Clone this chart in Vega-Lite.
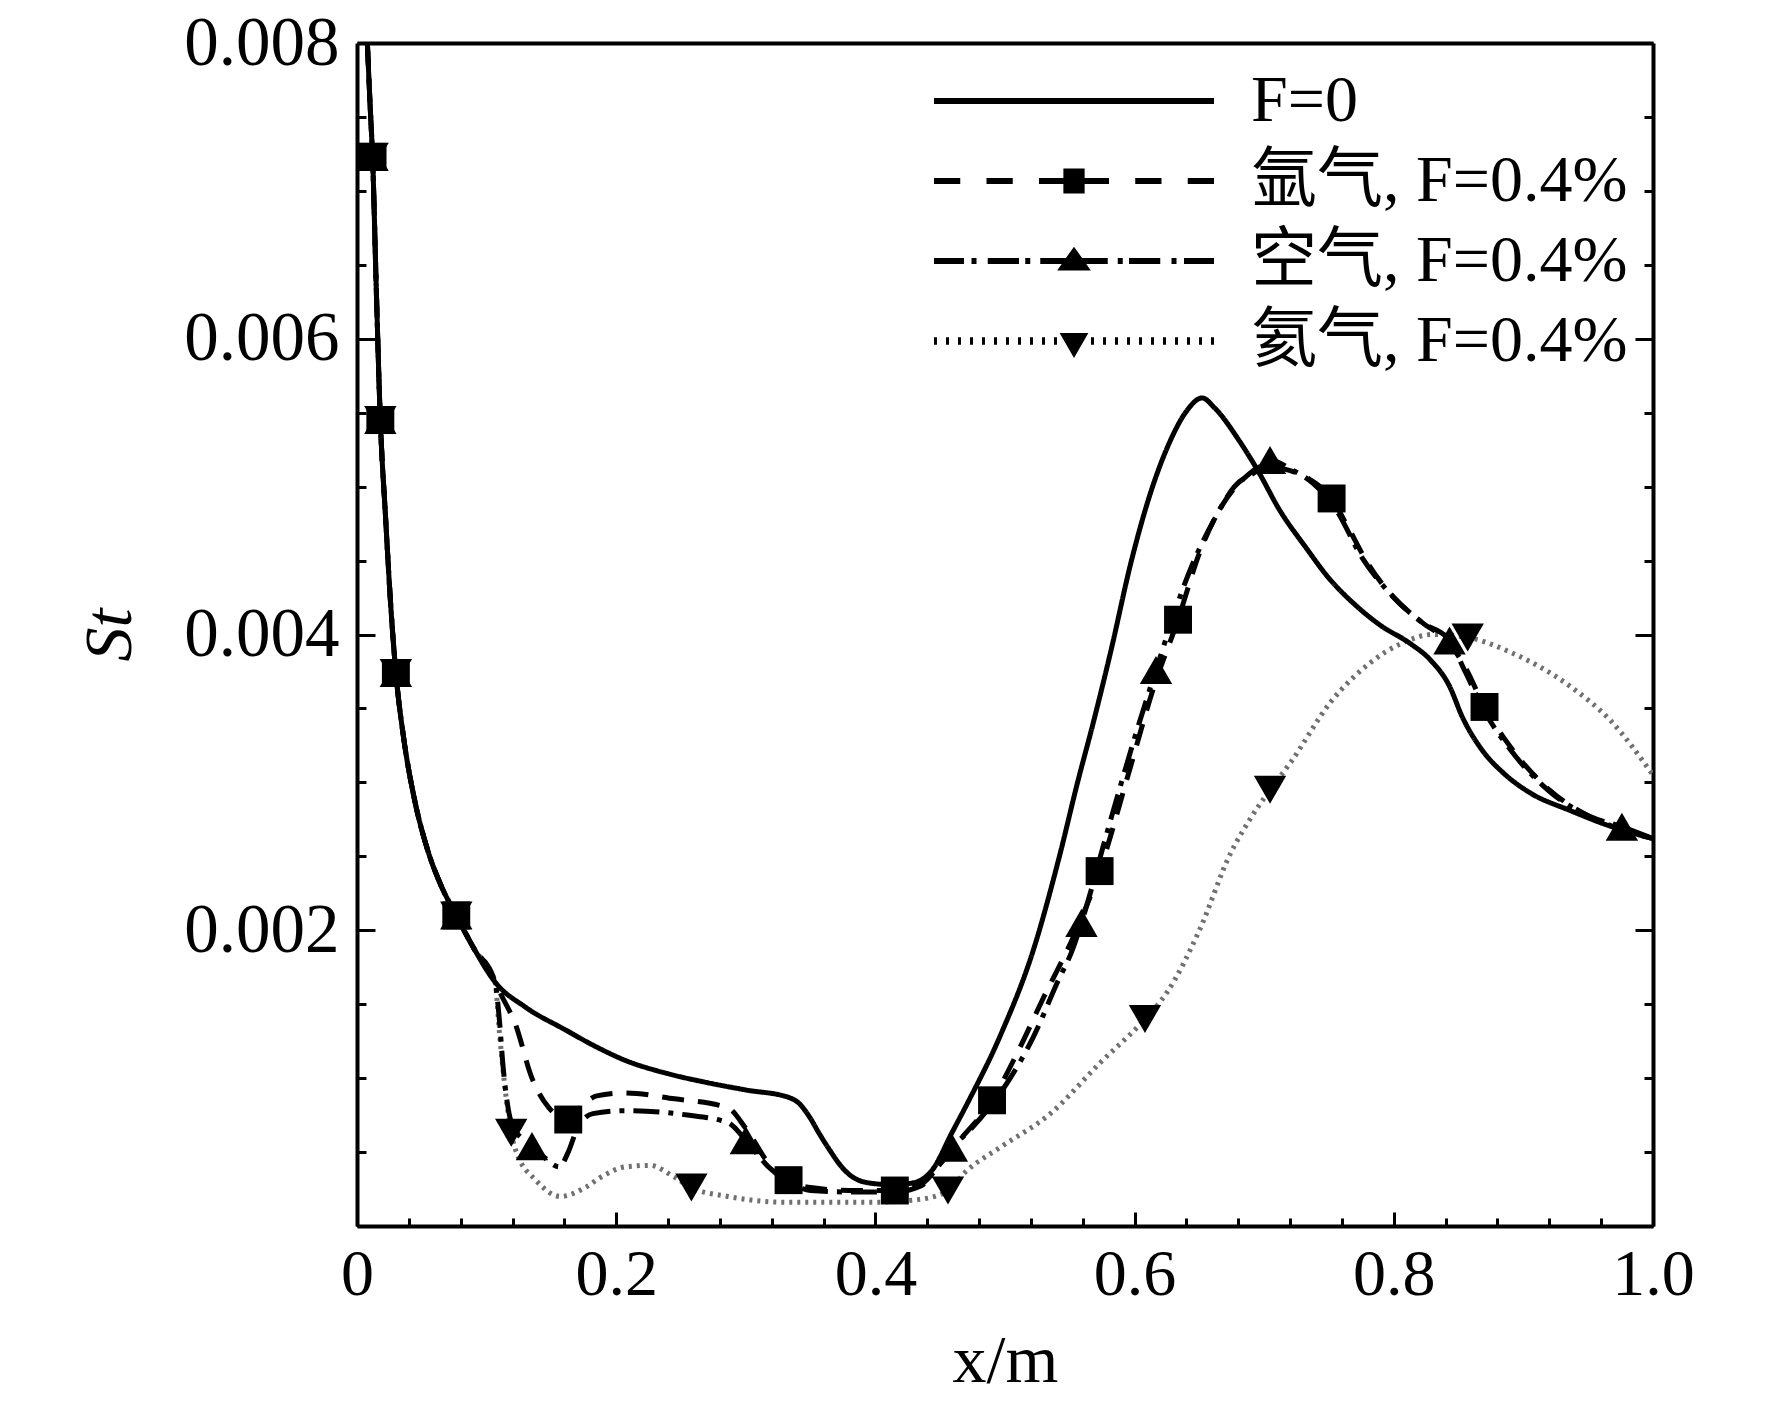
{
  "$schema": "https://vega.github.io/schema/vega-lite/v6.json",
  "width": 1296,
  "height": 1183,
  "autosize": {"type": "none"},
  "padding": {"left": 357, "top": 43, "right": 119, "bottom": 176},
  "background": "white",
  "config": {
    "view": {"stroke": null},
    "axis": {
      "grid": false,
      "domainColor": "black",
      "domainWidth": 4,
      "tickColor": "black",
      "tickWidth": 3,
      "labelFont": "Liberation Serif",
      "labelFontSize": 66,
      "labelColor": "black",
      "labelFlush": false,
      "labelOverlap": false,
      "titleFont": "Liberation Serif",
      "titleFontSize": 68,
      "titleFontWeight": "normal",
      "titleColor": "black"
    },
    "legend": {
      "orient": "top-right",
      "offset": 25,
      "padding": 0,
      "title": null,
      "labelFont": "Liberation Serif, Noto Sans CJK SC",
      "labelFontSize": 66,
      "labelColor": "black",
      "labelLimit": 0,
      "symbolOffset": 110,
      "labelOffset": 144,
      "rowPadding": 14,
      "symbolSize": 625,
      "symbolStrokeWidth": 0,
      "symbolFillColor": "black"
    }
  },
  "datasets": {
    "curves": [
      {"series": "F=0", "x": 0.008, "St": 0.008},
      {"series": "F=0", "x": 0.010, "St": 0.0076},
      {"series": "F=0", "x": 0.012, "St": 0.00723},
      {"series": "F=0", "x": 0.015, "St": 0.0063},
      {"series": "F=0", "x": 0.018, "St": 0.00545},
      {"series": "F=0", "x": 0.022, "St": 0.0048},
      {"series": "F=0", "x": 0.026, "St": 0.0042},
      {"series": "F=0", "x": 0.030, "St": 0.00374},
      {"series": "F=0", "x": 0.036, "St": 0.0033},
      {"series": "F=0", "x": 0.044, "St": 0.0029},
      {"series": "F=0", "x": 0.0546, "St": 0.00254},
      {"series": "F=0", "x": 0.065, "St": 0.0023},
      {"series": "F=0", "x": 0.0766, "St": 0.0021},
      {"series": "F=0", "x": 0.09, "St": 0.00188},
      {"series": "F=0", "x": 0.1065, "St": 0.00165},
      {"series": "F=0", "x": 0.13, "St": 0.00148},
      {"series": "F=0", "x": 0.16, "St": 0.00133},
      {"series": "F=0", "x": 0.185, "St": 0.00121},
      {"series": "F=0", "x": 0.207, "St": 0.00112},
      {"series": "F=0", "x": 0.24, "St": 0.00103},
      {"series": "F=0", "x": 0.27, "St": 0.00097},
      {"series": "F=0", "x": 0.30, "St": 0.00092},
      {"series": "F=0", "x": 0.333, "St": 0.00087},
      {"series": "F=0", "x": 0.341, "St": 0.00083},
      {"series": "F=0", "x": 0.349, "St": 0.00074},
      {"series": "F=0", "x": 0.357, "St": 0.00062},
      {"series": "F=0", "x": 0.365, "St": 0.00051},
      {"series": "F=0", "x": 0.373, "St": 0.00041},
      {"series": "F=0", "x": 0.381, "St": 0.00034},
      {"series": "F=0", "x": 0.396, "St": 0.00029},
      {"series": "F=0", "x": 0.412, "St": 0.00028},
      {"series": "F=0", "x": 0.428, "St": 0.00029},
      {"series": "F=0", "x": 0.444, "St": 0.00038},
      {"series": "F=0", "x": 0.459, "St": 0.00063},
      {"series": "F=0", "x": 0.471, "St": 0.00083},
      {"series": "F=0", "x": 0.496, "St": 0.00128},
      {"series": "F=0", "x": 0.522, "St": 0.00187},
      {"series": "F=0", "x": 0.542, "St": 0.0025},
      {"series": "F=0", "x": 0.556, "St": 0.003},
      {"series": "F=0", "x": 0.568, "St": 0.0034},
      {"series": "F=0", "x": 0.582, "St": 0.0039},
      {"series": "F=0", "x": 0.597, "St": 0.00448},
      {"series": "F=0", "x": 0.612, "St": 0.00495},
      {"series": "F=0", "x": 0.627, "St": 0.0053},
      {"series": "F=0", "x": 0.64, "St": 0.00551},
      {"series": "F=0", "x": 0.652, "St": 0.0056},
      {"series": "F=0", "x": 0.662, "St": 0.00553},
      {"series": "F=0", "x": 0.68, "St": 0.00532},
      {"series": "F=0", "x": 0.695, "St": 0.00511},
      {"series": "F=0", "x": 0.712, "St": 0.00484},
      {"series": "F=0", "x": 0.732, "St": 0.00459},
      {"series": "F=0", "x": 0.75, "St": 0.00438},
      {"series": "F=0", "x": 0.769, "St": 0.00421},
      {"series": "F=0", "x": 0.79, "St": 0.00406},
      {"series": "F=0", "x": 0.8125, "St": 0.00394},
      {"series": "F=0", "x": 0.828, "St": 0.00383},
      {"series": "F=0", "x": 0.843, "St": 0.00365},
      {"series": "F=0", "x": 0.853, "St": 0.00344},
      {"series": "F=0", "x": 0.868, "St": 0.00322},
      {"series": "F=0", "x": 0.885, "St": 0.00306},
      {"series": "F=0", "x": 0.905, "St": 0.00293},
      {"series": "F=0", "x": 0.936, "St": 0.00281},
      {"series": "F=0", "x": 0.965, "St": 0.00271},
      {"series": "F=0", "x": 1.0, "St": 0.00262},

      {"series": "氩气, F=0.4%", "x": 0.008, "St": 0.008},
      {"series": "氩气, F=0.4%", "x": 0.010, "St": 0.0076},
      {"series": "氩气, F=0.4%", "x": 0.012, "St": 0.00723},
      {"series": "氩气, F=0.4%", "x": 0.015, "St": 0.0063},
      {"series": "氩气, F=0.4%", "x": 0.018, "St": 0.00545},
      {"series": "氩气, F=0.4%", "x": 0.022, "St": 0.0048},
      {"series": "氩气, F=0.4%", "x": 0.026, "St": 0.0042},
      {"series": "氩气, F=0.4%", "x": 0.030, "St": 0.00374},
      {"series": "氩气, F=0.4%", "x": 0.036, "St": 0.0033},
      {"series": "氩气, F=0.4%", "x": 0.044, "St": 0.0029},
      {"series": "氩气, F=0.4%", "x": 0.0546, "St": 0.00254},
      {"series": "氩气, F=0.4%", "x": 0.065, "St": 0.0023},
      {"series": "氩气, F=0.4%", "x": 0.0766, "St": 0.0021},
      {"series": "氩气, F=0.4%", "x": 0.09, "St": 0.00188},
      {"series": "氩气, F=0.4%", "x": 0.1065, "St": 0.00165},
      {"series": "氩气, F=0.4%", "x": 0.112, "St": 0.00155},
      {"series": "氩气, F=0.4%", "x": 0.122, "St": 0.00137},
      {"series": "氩气, F=0.4%", "x": 0.135, "St": 0.001},
      {"series": "氩气, F=0.4%", "x": 0.148, "St": 0.0008},
      {"series": "氩气, F=0.4%", "x": 0.163, "St": 0.00072},
      {"series": "氩气, F=0.4%", "x": 0.172, "St": 0.0008},
      {"series": "氩气, F=0.4%", "x": 0.185, "St": 0.00088},
      {"series": "氩气, F=0.4%", "x": 0.207, "St": 0.0009},
      {"series": "氩气, F=0.4%", "x": 0.245, "St": 0.00086},
      {"series": "氩气, F=0.4%", "x": 0.286, "St": 0.0008},
      {"series": "氩气, F=0.4%", "x": 0.30, "St": 0.00066},
      {"series": "氩气, F=0.4%", "x": 0.318, "St": 0.00042},
      {"series": "氩气, F=0.4%", "x": 0.333, "St": 0.00031},
      {"series": "氩气, F=0.4%", "x": 0.35, "St": 0.00026},
      {"series": "氩气, F=0.4%", "x": 0.38, "St": 0.00024},
      {"series": "氩气, F=0.4%", "x": 0.415, "St": 0.00024},
      {"series": "氩气, F=0.4%", "x": 0.435, "St": 0.00028},
      {"series": "氩气, F=0.4%", "x": 0.45, "St": 0.00042},
      {"series": "氩气, F=0.4%", "x": 0.465, "St": 0.00058},
      {"series": "氩气, F=0.4%", "x": 0.49, "St": 0.00085},
      {"series": "氩气, F=0.4%", "x": 0.51, "St": 0.00118},
      {"series": "氩气, F=0.4%", "x": 0.53, "St": 0.00155},
      {"series": "氩气, F=0.4%", "x": 0.553, "St": 0.00196},
      {"series": "氩气, F=0.4%", "x": 0.573, "St": 0.0024},
      {"series": "氩气, F=0.4%", "x": 0.595, "St": 0.00305},
      {"series": "氩气, F=0.4%", "x": 0.615, "St": 0.00365},
      {"series": "氩气, F=0.4%", "x": 0.6335, "St": 0.0041},
      {"series": "氩气, F=0.4%", "x": 0.65, "St": 0.00455},
      {"series": "氩气, F=0.4%", "x": 0.668, "St": 0.00488},
      {"series": "氩气, F=0.4%", "x": 0.685, "St": 0.00506},
      {"series": "氩气, F=0.4%", "x": 0.70, "St": 0.00514},
      {"series": "氩气, F=0.4%", "x": 0.715, "St": 0.00512},
      {"series": "氩气, F=0.4%", "x": 0.735, "St": 0.00505},
      {"series": "氩气, F=0.4%", "x": 0.752, "St": 0.00492},
      {"series": "氩气, F=0.4%", "x": 0.765, "St": 0.00472},
      {"series": "氩气, F=0.4%", "x": 0.78, "St": 0.00448},
      {"series": "氩气, F=0.4%", "x": 0.80, "St": 0.00425},
      {"series": "氩气, F=0.4%", "x": 0.822, "St": 0.00408},
      {"series": "氩气, F=0.4%", "x": 0.843, "St": 0.00394},
      {"series": "氩气, F=0.4%", "x": 0.855, "St": 0.00378},
      {"series": "氩气, F=0.4%", "x": 0.87, "St": 0.00351},
      {"series": "氩气, F=0.4%", "x": 0.89, "St": 0.00324},
      {"series": "氩气, F=0.4%", "x": 0.92, "St": 0.00295},
      {"series": "氩气, F=0.4%", "x": 0.951, "St": 0.00277},
      {"series": "氩气, F=0.4%", "x": 0.976, "St": 0.00268},
      {"series": "氩气, F=0.4%", "x": 1.0, "St": 0.00262},

      {"series": "空气, F=0.4%", "x": 0.008, "St": 0.008},
      {"series": "空气, F=0.4%", "x": 0.010, "St": 0.0076},
      {"series": "空气, F=0.4%", "x": 0.012, "St": 0.00723},
      {"series": "空气, F=0.4%", "x": 0.015, "St": 0.0063},
      {"series": "空气, F=0.4%", "x": 0.018, "St": 0.00545},
      {"series": "空气, F=0.4%", "x": 0.022, "St": 0.0048},
      {"series": "空气, F=0.4%", "x": 0.026, "St": 0.0042},
      {"series": "空气, F=0.4%", "x": 0.030, "St": 0.00374},
      {"series": "空气, F=0.4%", "x": 0.036, "St": 0.0033},
      {"series": "空气, F=0.4%", "x": 0.044, "St": 0.0029},
      {"series": "空气, F=0.4%", "x": 0.0546, "St": 0.00254},
      {"series": "空气, F=0.4%", "x": 0.065, "St": 0.0023},
      {"series": "空气, F=0.4%", "x": 0.0766, "St": 0.0021},
      {"series": "空气, F=0.4%", "x": 0.09, "St": 0.00188},
      {"series": "空气, F=0.4%", "x": 0.1065, "St": 0.00165},
      {"series": "空气, F=0.4%", "x": 0.1096, "St": 0.00142},
      {"series": "空气, F=0.4%", "x": 0.1127, "St": 0.00108},
      {"series": "空气, F=0.4%", "x": 0.116, "St": 0.00083},
      {"series": "空气, F=0.4%", "x": 0.12, "St": 0.00068},
      {"series": "空气, F=0.4%", "x": 0.135, "St": 0.00054},
      {"series": "空气, F=0.4%", "x": 0.145, "St": 0.00046},
      {"series": "空气, F=0.4%", "x": 0.156, "St": 0.0004},
      {"series": "空气, F=0.4%", "x": 0.163, "St": 0.0005},
      {"series": "空气, F=0.4%", "x": 0.17, "St": 0.00066},
      {"series": "空气, F=0.4%", "x": 0.182, "St": 0.00076},
      {"series": "空气, F=0.4%", "x": 0.207, "St": 0.00078},
      {"series": "空气, F=0.4%", "x": 0.255, "St": 0.00075},
      {"series": "空气, F=0.4%", "x": 0.286, "St": 0.0007},
      {"series": "空气, F=0.4%", "x": 0.30, "St": 0.00058},
      {"series": "空气, F=0.4%", "x": 0.3175, "St": 0.0004},
      {"series": "空气, F=0.4%", "x": 0.333, "St": 0.0003},
      {"series": "空气, F=0.4%", "x": 0.35, "St": 0.00024},
      {"series": "空气, F=0.4%", "x": 0.38, "St": 0.00023},
      {"series": "空气, F=0.4%", "x": 0.415, "St": 0.00023},
      {"series": "空气, F=0.4%", "x": 0.435, "St": 0.00027},
      {"series": "空气, F=0.4%", "x": 0.448, "St": 0.0004},
      {"series": "空气, F=0.4%", "x": 0.459, "St": 0.00053},
      {"series": "空气, F=0.4%", "x": 0.473, "St": 0.00065},
      {"series": "空气, F=0.4%", "x": 0.504, "St": 0.001},
      {"series": "空气, F=0.4%", "x": 0.522, "St": 0.00128},
      {"series": "空气, F=0.4%", "x": 0.54, "St": 0.00164},
      {"series": "空气, F=0.4%", "x": 0.553, "St": 0.00189},
      {"series": "空气, F=0.4%", "x": 0.559, "St": 0.00205},
      {"series": "空气, F=0.4%", "x": 0.58, "St": 0.0027},
      {"series": "空气, F=0.4%", "x": 0.60, "St": 0.0033},
      {"series": "空气, F=0.4%", "x": 0.6165, "St": 0.00376},
      {"series": "空气, F=0.4%", "x": 0.643, "St": 0.00444},
      {"series": "空气, F=0.4%", "x": 0.661, "St": 0.00477},
      {"series": "空气, F=0.4%", "x": 0.677, "St": 0.005},
      {"series": "空气, F=0.4%", "x": 0.695, "St": 0.00511},
      {"series": "空气, F=0.4%", "x": 0.7045, "St": 0.00518},
      {"series": "空气, F=0.4%", "x": 0.72, "St": 0.00512},
      {"series": "空气, F=0.4%", "x": 0.738, "St": 0.00502},
      {"series": "空气, F=0.4%", "x": 0.755, "St": 0.00485},
      {"series": "空气, F=0.4%", "x": 0.7755, "St": 0.00452},
      {"series": "空气, F=0.4%", "x": 0.80, "St": 0.00425},
      {"series": "空气, F=0.4%", "x": 0.822, "St": 0.00408},
      {"series": "空气, F=0.4%", "x": 0.843, "St": 0.00396},
      {"series": "空气, F=0.4%", "x": 0.855, "St": 0.00375},
      {"series": "空气, F=0.4%", "x": 0.87, "St": 0.00348},
      {"series": "空气, F=0.4%", "x": 0.89, "St": 0.00322},
      {"series": "空气, F=0.4%", "x": 0.92, "St": 0.00294},
      {"series": "空气, F=0.4%", "x": 0.951, "St": 0.00277},
      {"series": "空气, F=0.4%", "x": 0.976, "St": 0.0027},
      {"series": "空气, F=0.4%", "x": 1.0, "St": 0.00262},

      {"series": "氦气, F=0.4%", "x": 0.008, "St": 0.008},
      {"series": "氦气, F=0.4%", "x": 0.010, "St": 0.0076},
      {"series": "氦气, F=0.4%", "x": 0.012, "St": 0.00723},
      {"series": "氦气, F=0.4%", "x": 0.015, "St": 0.0063},
      {"series": "氦气, F=0.4%", "x": 0.018, "St": 0.00545},
      {"series": "氦气, F=0.4%", "x": 0.022, "St": 0.0048},
      {"series": "氦气, F=0.4%", "x": 0.026, "St": 0.0042},
      {"series": "氦气, F=0.4%", "x": 0.030, "St": 0.00374},
      {"series": "氦气, F=0.4%", "x": 0.036, "St": 0.0033},
      {"series": "氦气, F=0.4%", "x": 0.044, "St": 0.0029},
      {"series": "氦气, F=0.4%", "x": 0.0546, "St": 0.00254},
      {"series": "氦气, F=0.4%", "x": 0.065, "St": 0.0023},
      {"series": "氦气, F=0.4%", "x": 0.0766, "St": 0.0021},
      {"series": "氦气, F=0.4%", "x": 0.09, "St": 0.00188},
      {"series": "氦气, F=0.4%", "x": 0.1065, "St": 0.00165},
      {"series": "氦气, F=0.4%", "x": 0.11, "St": 0.0013},
      {"series": "氦气, F=0.4%", "x": 0.114, "St": 0.00095},
      {"series": "氦气, F=0.4%", "x": 0.119, "St": 0.00063},
      {"series": "氦气, F=0.4%", "x": 0.1225, "St": 0.00051},
      {"series": "氦气, F=0.4%", "x": 0.138, "St": 0.00031},
      {"series": "氦气, F=0.4%", "x": 0.157, "St": 0.0002},
      {"series": "氦气, F=0.4%", "x": 0.176, "St": 0.00026},
      {"series": "氦气, F=0.4%", "x": 0.19, "St": 0.00034},
      {"series": "氦气, F=0.4%", "x": 0.207, "St": 0.0004},
      {"series": "氦气, F=0.4%", "x": 0.226, "St": 0.00041},
      {"series": "氦气, F=0.4%", "x": 0.245, "St": 0.00033},
      {"series": "氦气, F=0.4%", "x": 0.258, "St": 0.00026},
      {"series": "氦气, F=0.4%", "x": 0.286, "St": 0.0002},
      {"series": "氦气, F=0.4%", "x": 0.333, "St": 0.00016},
      {"series": "氦气, F=0.4%", "x": 0.396, "St": 0.00016},
      {"series": "氦气, F=0.4%", "x": 0.434, "St": 0.00018},
      {"series": "氦气, F=0.4%", "x": 0.456, "St": 0.00024},
      {"series": "氦气, F=0.4%", "x": 0.47, "St": 0.00037},
      {"series": "氦气, F=0.4%", "x": 0.496, "St": 0.00053},
      {"series": "氦气, F=0.4%", "x": 0.535, "St": 0.00076},
      {"series": "氦气, F=0.4%", "x": 0.573, "St": 0.0011},
      {"series": "氦气, F=0.4%", "x": 0.608, "St": 0.0014},
      {"series": "氦气, F=0.4%", "x": 0.625, "St": 0.00158},
      {"series": "氦气, F=0.4%", "x": 0.65, "St": 0.002},
      {"series": "氦气, F=0.4%", "x": 0.674, "St": 0.00252},
      {"series": "氦气, F=0.4%", "x": 0.689, "St": 0.00275},
      {"series": "氦气, F=0.4%", "x": 0.7045, "St": 0.00295},
      {"series": "氦气, F=0.4%", "x": 0.72, "St": 0.00313},
      {"series": "氦气, F=0.4%", "x": 0.751, "St": 0.00354},
      {"series": "氦气, F=0.4%", "x": 0.782, "St": 0.00381},
      {"series": "氦气, F=0.4%", "x": 0.806, "St": 0.00394},
      {"series": "氦气, F=0.4%", "x": 0.83, "St": 0.004},
      {"series": "氦气, F=0.4%", "x": 0.857, "St": 0.00398},
      {"series": "氦气, F=0.4%", "x": 0.89, "St": 0.00388},
      {"series": "氦气, F=0.4%", "x": 0.936, "St": 0.00365},
      {"series": "氦气, F=0.4%", "x": 0.967, "St": 0.00342},
      {"series": "氦气, F=0.4%", "x": 1.0, "St": 0.00305}
    ],
    "markers": [
      {"series": "氩气, F=0.4%", "x": 0.012, "St": 0.00723},
      {"series": "氩气, F=0.4%", "x": 0.018, "St": 0.00545},
      {"series": "氩气, F=0.4%", "x": 0.030, "St": 0.00374},
      {"series": "氩气, F=0.4%", "x": 0.0766, "St": 0.0021},
      {"series": "氩气, F=0.4%", "x": 0.163, "St": 0.00072},
      {"series": "氩气, F=0.4%", "x": 0.333, "St": 0.00031},
      {"series": "氩气, F=0.4%", "x": 0.415, "St": 0.00024},
      {"series": "氩气, F=0.4%", "x": 0.49, "St": 0.00085},
      {"series": "氩气, F=0.4%", "x": 0.573, "St": 0.0024},
      {"series": "氩气, F=0.4%", "x": 0.6335, "St": 0.0041},
      {"series": "氩气, F=0.4%", "x": 0.752, "St": 0.00492},
      {"series": "氩气, F=0.4%", "x": 0.87, "St": 0.00351},
      {"series": "空气, F=0.4%", "x": 0.012, "St": 0.00723},
      {"series": "空气, F=0.4%", "x": 0.018, "St": 0.00545},
      {"series": "空气, F=0.4%", "x": 0.030, "St": 0.00374},
      {"series": "空气, F=0.4%", "x": 0.0766, "St": 0.0021},
      {"series": "空气, F=0.4%", "x": 0.135, "St": 0.00054},
      {"series": "空气, F=0.4%", "x": 0.30, "St": 0.00058},
      {"series": "空气, F=0.4%", "x": 0.459, "St": 0.00053},
      {"series": "空气, F=0.4%", "x": 0.559, "St": 0.00205},
      {"series": "空气, F=0.4%", "x": 0.6165, "St": 0.00376},
      {"series": "空气, F=0.4%", "x": 0.7045, "St": 0.00518},
      {"series": "空气, F=0.4%", "x": 0.843, "St": 0.00396},
      {"series": "空气, F=0.4%", "x": 0.976, "St": 0.0027},
      {"series": "氦气, F=0.4%", "x": 0.012, "St": 0.00723},
      {"series": "氦气, F=0.4%", "x": 0.018, "St": 0.00545},
      {"series": "氦气, F=0.4%", "x": 0.030, "St": 0.00374},
      {"series": "氦气, F=0.4%", "x": 0.0766, "St": 0.0021},
      {"series": "氦气, F=0.4%", "x": 0.119, "St": 0.00063},
      {"series": "氦气, F=0.4%", "x": 0.258, "St": 0.00026},
      {"series": "氦气, F=0.4%", "x": 0.456, "St": 0.00024},
      {"series": "氦气, F=0.4%", "x": 0.608, "St": 0.0014},
      {"series": "氦气, F=0.4%", "x": 0.7045, "St": 0.00295},
      {"series": "氦气, F=0.4%", "x": 0.857, "St": 0.00398}
    ]
  },
  "resolve": {"axis": {"x": "independent", "y": "independent"}},
  "layer": [
    {
      "data": {"name": "curves"},
      "transform": [{"filter": "datum.series === '氦气, F=0.4%'"}],
      "mark": {"type": "line", "interpolate": "monotone", "strokeWidth": 5, "color": "#707070", "clip": true},
      "encoding": {
        "x": {"field": "x", "type": "quantitative", "axis": null},
        "y": {"field": "St", "type": "quantitative", "axis": null},
        "strokeDash": {
          "field": "series", "type": "nominal",
          "scale": {"domain": ["F=0", "氩气, F=0.4%", "空气, F=0.4%", "氦气, F=0.4%"], "range": [[1, 0], [22, 14], [26, 9, 5, 9], [3, 5]]},
          "legend": {"title": null}
        }
      }
    },
    {
      "data": {"name": "curves"},
      "transform": [{"filter": "datum.series !== '氦气, F=0.4%'"}],
      "mark": {"type": "line", "interpolate": "monotone", "strokeWidth": 5, "color": "black", "clip": true},
      "encoding": {
        "x": {
          "field": "x", "type": "quantitative",
          "scale": {"domain": [0, 1], "nice": false, "zero": false},
          "axis": {
            "orient": "bottom",
            "values": [0, 0.04, 0.08, 0.12, 0.16, 0.2, 0.24, 0.28, 0.32, 0.36, 0.4, 0.44, 0.48, 0.52, 0.56, 0.6, 0.64, 0.68, 0.72, 0.76, 0.8, 0.84, 0.88, 0.92, 0.96, 1.0],
            "labelExpr": "abs(datum.value*5 - round(datum.value*5)) < 0.001 ? (datum.value == 0 ? '0' : format(datum.value, '.1f')) : ''",
            "tickSize": {"condition": {"test": "abs(datum.value*5 - round(datum.value*5)) < 0.001", "value": -14}, "value": -8},
            "labelFontSize": 66,
            "labelPadding": 30,
            "title": "x/m",
            "titlePadding": 14
          }
        },
        "y": {
          "field": "St", "type": "quantitative",
          "scale": {"domain": [0, 0.008], "nice": false},
          "axis": {
            "orient": "left",
            "values": [0, 0.0005, 0.001, 0.0015, 0.002, 0.0025, 0.003, 0.0035, 0.004, 0.0045, 0.005, 0.0055, 0.006, 0.0065, 0.007, 0.0075, 0.008],
            "labelExpr": "abs(datum.value*500 - round(datum.value*500)) < 0.001 && datum.value > 0 ? format(datum.value, '.3f') : ''",
            "tickSize": {"condition": {"test": "abs(datum.value*500 - round(datum.value*500)) < 0.001", "value": -18}, "value": -9},
            "labelFontSize": 69,
            "labelPadding": 36,
            "title": "St",
            "titleFontStyle": "italic",
            "titlePadding": 39
          }
        },
        "detail": {"field": "series"},
        "strokeDash": {
          "field": "series", "type": "nominal",
          "scale": {"domain": ["F=0", "氩气, F=0.4%", "空气, F=0.4%", "氦气, F=0.4%"], "range": [[1, 0], [22, 14], [26, 9, 5, 9], [3, 5]]},
          "legend": {"title": null}
        }
      }
    },
    {
      "data": {"name": "markers"},
      "transform": [{"filter": "datum.series === '氩气, F=0.4%'"}],
      "mark": {"type": "point", "shape": "square", "filled": true, "color": "black", "opacity": 1, "size": 780},
      "encoding": {
        "x": {"field": "x", "type": "quantitative", "axis": {"orient": "top", "ticks": false, "labels": false, "title": null}},
        "y": {
          "field": "St", "type": "quantitative",
          "axis": {
            "orient": "right", "labels": false, "title": null,
            "values": [0, 0.0005, 0.001, 0.0015, 0.002, 0.0025, 0.003, 0.0035, 0.004, 0.0045, 0.005, 0.0055, 0.006, 0.0065, 0.007, 0.0075, 0.008],
            "tickSize": {"condition": {"test": "abs(datum.value*500 - round(datum.value*500)) < 0.001", "value": -18}, "value": -9}
          }
        }
      }
    },
    {
      "data": {"name": "markers"},
      "transform": [{"filter": "datum.series === '空气, F=0.4%'"}],
      "mark": {"type": "point", "shape": "triangle-up", "filled": true, "color": "black", "opacity": 1, "size": 1050},
      "encoding": {
        "x": {"field": "x", "type": "quantitative", "axis": null},
        "y": {"field": "St", "type": "quantitative", "axis": null}
      }
    },
    {
      "data": {"name": "markers"},
      "transform": [{"filter": "datum.series === '氦气, F=0.4%'"}],
      "mark": {"type": "point", "shape": "triangle-down", "filled": true, "color": "black", "opacity": 1, "size": 1050},
      "encoding": {
        "x": {"field": "x", "type": "quantitative", "axis": null},
        "y": {"field": "St", "type": "quantitative", "axis": null}
      }
    },
    {
      "data": {"name": "markers"},
      "transform": [{"filter": "false"}],
      "mark": {"type": "point", "filled": true, "color": "black", "strokeWidth": 0, "size": 625, "opacity": 1},
      "encoding": {
        "x": {"field": "x", "type": "quantitative", "axis": null},
        "y": {"field": "St", "type": "quantitative", "axis": null},
        "shape": {
          "field": "series", "type": "nominal",
          "scale": {
            "domain": ["F=0", "氩气, F=0.4%", "空气, F=0.4%", "氦气, F=0.4%"],
            "range": [
              "M-11.2,-0.24H11.2V0.24H-11.2Z",
              "M-11.2,-0.24H-9.1V0.24H-11.2Z M-7,-0.24H-4.9V0.24H-7Z M-2.8,-0.24H-0.7V0.24H-2.8Z M0.7,-0.24H2.8V0.24H0.7Z M4.9,-0.24H7V0.24H4.9Z M9.1,-0.24H11.2V0.24H9.1Z M-0.85,-1H0.85V1H-0.85Z",
              "M-11.2,-0.24H-8.8V0.24H-11.2Z M-8.2,-0.24H-7.8V0.24H-8.2Z M-6.9,-0.24H-4.4V0.24H-6.9Z M-3.9,-0.24H-3.5V0.24H-3.9Z M-2.7,-0.24H-0.6V0.24H-2.7Z M0.6,-0.24H2.7V0.24H0.6Z M3.5,-0.24H3.9V0.24H3.5Z M4.4,-0.24H6.9V0.24H4.4Z M7.8,-0.24H8.2V0.24H7.8Z M8.8,-0.24H11.2V0.24H8.8Z M0,-1.15L1.35,0.75H-1.35Z",
              "M-11.2,-0.3H-10.96V0.3H-11.2Z M-10.24,-0.3H-10V0.3H-10.24Z M-9.28,-0.3H-9.04V0.3H-9.28Z M-8.32,-0.3H-8.08V0.3H-8.32Z M-7.36,-0.3H-7.12V0.3H-7.36Z M-6.4,-0.3H-6.16V0.3H-6.4Z M-5.44,-0.3H-5.2V0.3H-5.44Z M-4.48,-0.3H-4.24V0.3H-4.48Z M-3.52,-0.3H-3.28V0.3H-3.52Z M-2.56,-0.3H-2.32V0.3H-2.56Z M-1.6,-0.3H-1.36V0.3H-1.6Z M1.36,-0.3H1.6V0.3H1.36Z M2.32,-0.3H2.56V0.3H2.32Z M3.28,-0.3H3.52V0.3H3.28Z M4.24,-0.3H4.48V0.3H4.24Z M5.2,-0.3H5.44V0.3H5.2Z M6.16,-0.3H6.4V0.3H6.16Z M7.12,-0.3H7.36V0.3H7.12Z M8.08,-0.3H8.32V0.3H8.08Z M9.04,-0.3H9.28V0.3H9.04Z M10,-0.3H10.24V0.3H10Z M10.96,-0.3H11.2V0.3H10.96Z M-1.15,-0.65H1.15L0,1.35Z"
            ]
          },
          "legend": {"title": null}
        }
      }
    }
  ]
}
